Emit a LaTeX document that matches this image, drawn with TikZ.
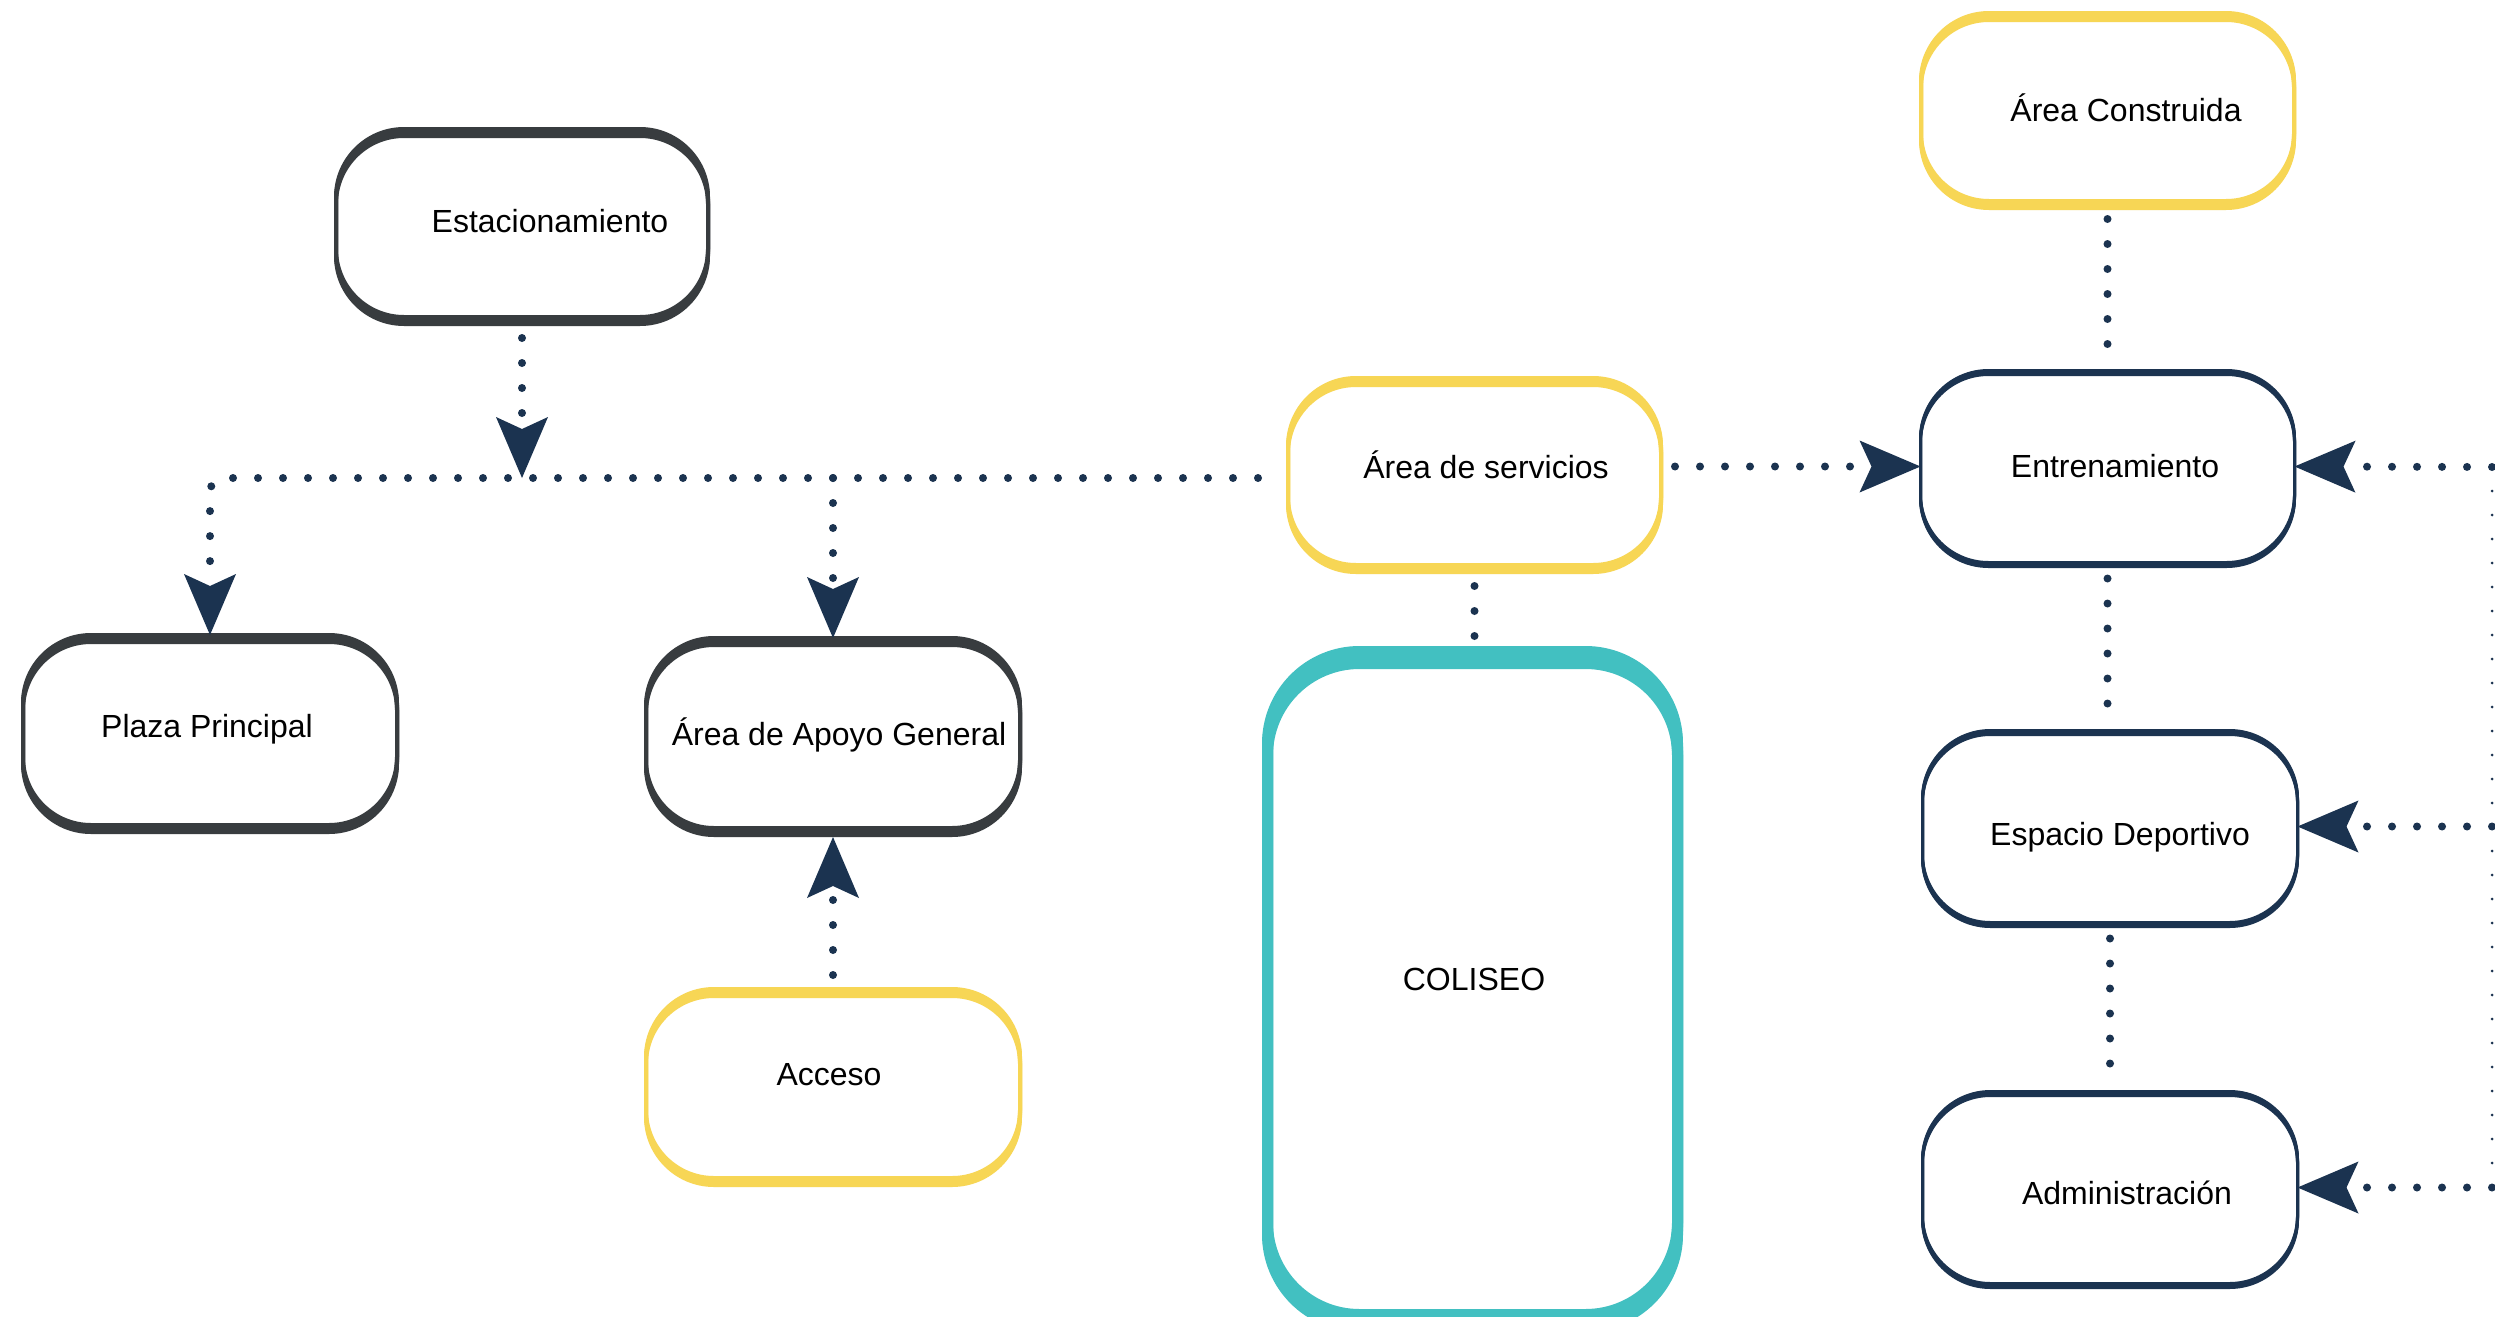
\documentclass[tikz,border=0pt]{standalone}
\usepackage{fontspec}
\setmainfont{Liberation Sans}
\usetikzlibrary{arrows.meta}
\definecolor{dk}{HTML}{383C3F}
\definecolor{nv}{HTML}{1B3350}
\definecolor{yl}{HTML}{F7D655}
\definecolor{tl}{HTML}{42C0C1}
\def\rc{68pt}
\newcommand\mkbox[8]{%
  \pgfmathsetmacro\cx{(#5+#7)/2}%
  \pgfmathsetmacro\cy{(#6+#8-#4)/2}%
  \pgfmathsetmacro\bw{#7-#5-#3}%
  \pgfmathsetmacro\bh{#8-#6-#4-#3}%
  \node[box, rounded corners=\rc, draw=#2, line width=#3pt, minimum width=\bw pt, minimum height=\bh pt] (#1) at (\cx,\cy) {};
  \foreach \k in {1,2,3}{%
    \draw[#2, line width=#3pt, rounded corners=\rc] ([yshift={-\k*#4/3}]#1.north west) rectangle ([yshift={-\k*#4/3}]#1.south east);
  }%
}
\tikzset{
  box/.style={rectangle, fill=white, inner sep=0pt, outer sep=0pt},
  lbl/.style={font=\fontsize{32}{38}\selectfont, text height=23pt, text depth=0pt, inner sep=0pt},
  dl/.style={draw=nv, line width=8pt, dash pattern=on 0pt off 25pt, line cap=round},
  thd/.style={draw=nv, line width=3pt, dash pattern=on 0pt off 24pt, line cap=round},
  ar/.style={-{Stealth[length=61pt,width=52pt,inset=12pt,line width=0pt]}}
}
\begin{document}
\begin{tikzpicture}[x=1pt,y=-1pt]
\clip (0,0) rectangle (2495,1317);
\fill[white] (0,0) rectangle (2495,1317);

% boxes: name, colour, line width, shift, x1, y1, x2, y2
\mkbox{est}{dk}{4}{7}{334}{127}{710}{326}
\mkbox{plaza}{dk}{4}{7}{21}{633}{399}{834}
\mkbox{apoyo}{dk}{4}{7}{644}{636}{1022}{837}
\mkbox{acceso}{yl}{4}{7}{644}{987}{1022}{1187}
\mkbox{serv}{yl}{4}{7}{1286}{376}{1663}{574}
\mkbox{constr}{yl}{4}{7}{1919}{11}{2296}{210}
\mkbox{entr}{nv}{3}{4}{1919}{369}{2296}{568}
\mkbox{esp}{nv}{3}{4}{1921}{729}{2299}{928}
\mkbox{adm}{nv}{3}{4}{1921}{1090}{2299}{1289}
\def\rc{92pt}
\mkbox{coliseo}{tl}{11}{12}{1262}{646}{1683}{1332}

% labels
\node[lbl] (est-t) at (550,221) {Estacionamiento};
\node[lbl] (plaza-t) at (207,726) {Plaza Principal};
\node[lbl] (apoyo-t) at (839,734) {Área de Apoyo General};
\node[lbl] (acceso-t) at (829,1074) {Acceso};
\node[lbl] (serv-t) at (1486,467) {Área de servicios};
\node[lbl] (coliseo-t) at (1474,979) {COLISEO};
\node[lbl] (constr-t) at (2126,110) {Área Construida};
\node[lbl] (entr-t) at (2115,466) {Entrenamiento};
\node[lbl] (esp-t) at (2120,834) {Espacio Deportivo};
\node[lbl] (adm-t) at (2127,1193) {Administración};

% junction coordinates
\coordinate (busR) at (1258,478);
\coordinate (busL) at (210,478);
\coordinate (j1) at (522,478);
\coordinate (j2) at (833,478);
\coordinate (rt) at (2492,467);
\coordinate (rb) at (2492,1190);

% connectors
\draw[dl,ar,rounded corners=14pt] (busR) -- (busL) -- (plaza.north);
\draw[dl,ar] (j2) -- (apoyo.north);
\draw[dl,ar,shorten <=21pt] (est.south) -- (j1);
\draw[dl,ar,shorten <=14pt,shorten >=9pt] (acceso.north) -- (apoyo.south);
\draw[dl,ar,shorten <=14pt] (serv.east |- entr.west) -- (entr.west);
\draw[dl,shorten <=21pt,shorten >=12pt] (serv.south) -- (serv.south |- coliseo.north);
\draw[dl,shorten <=18pt,shorten >=10pt] (constr.south) -- (entr.north);
\draw[dl,shorten <=16pt,shorten >=10pt] (entr.south) -- (entr.south |- esp.north);
\draw[dl,shorten <=16pt,shorten >=10pt] (esp.south) -- (esp.south |- adm.north);
\draw[thd] (rt) -- (rb);
\draw[dl,ar] (rt) -- (entr.east);
\draw[dl,ar] (rt |- esp.east) -- (esp.east);
\draw[dl,ar] (rt |- adm.east) -- (adm.east);
\end{tikzpicture}
\end{document}
